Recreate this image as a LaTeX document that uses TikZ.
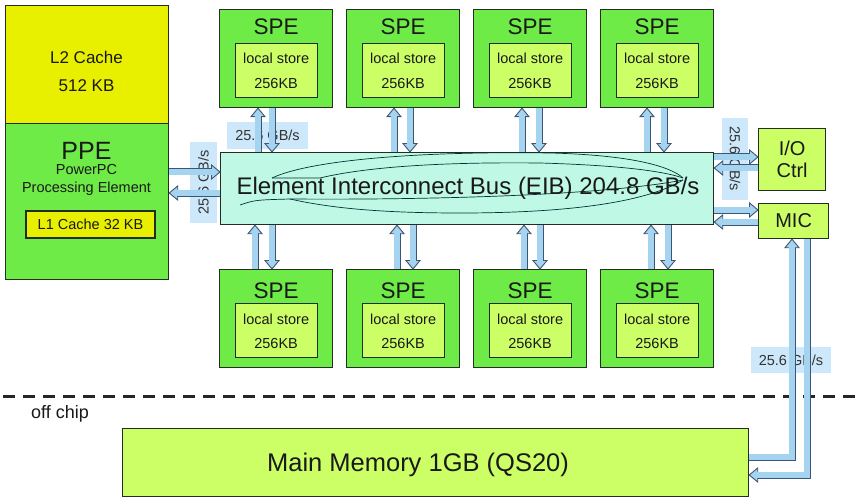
\documentclass[tikz,border=0pt]{standalone}
\usepackage{fontspec}
\setmainfont{Liberation Sans}
\usetikzlibrary{calc}
\definecolor{grn}{RGB}{110,235,70}
\definecolor{lgrn}{RGB}{204,255,102}
\definecolor{yel}{RGB}{232,240,0}
\definecolor{eibc}{RGB}{192,248,230}
\definecolor{afill}{RGB}{165,212,240}
\definecolor{aline}{RGB}{60,85,115}
\definecolor{lblbg}{RGB}{205,232,250}
\definecolor{bord}{RGB}{35,45,35}
\newcommand{\fs}[1]{\fontsize{#1}{#1}\selectfont}
\newcommand{\blockarr}[3]{%
  \draw[shaftout] #1; \pic[rotate=#3] at #2 {bhead}; \draw[shaftin] #1;}
\begin{document}
\begin{tikzpicture}[x=1pt,y=-1pt,
 box/.style={draw=bord, line width=1.2pt, inner sep=0pt, anchor=north west, text=black!90},
 txt/.style={inner sep=0pt, text=black!90, align=center},
 lbl/.style={fill=lblbg, inner sep=0pt, font=\fs{14.5}, text=black!80},
 shaftout/.style={draw=aline, line width=7pt, shorten >=7pt, line join=miter},
 shaftin/.style={draw=afill, line width=5.2pt, shorten >=5pt, line join=miter},
 bhead/.pic={\filldraw[fill=afill, draw=aline, line width=0.9pt, line join=miter] (0,0) -- (-8.5,7) -- (-8.5,-7) -- cycle;},
 swoosh/.style={draw=black!60!teal, line width=0.7pt}
]
\useasboundingbox[fill=white] (0,0) rectangle (861,497);

% PPE / L2
\node[box, fill=yel, minimum width=163, minimum height=118] (l2) at (5,5) {};
\node[box, fill=grn, minimum width=163, minimum height=156] (ppe) at (5,123) {};
\node[txt, font=\fs{17}] (l2a) at (86.5,57) {L2 Cache};
\node[txt, font=\fs{17}] (l2b) at (86.5,86) {512 KB};
\node[txt, font=\fs{25}] (ppea) at (86.5,151) {PPE};
\node[txt, font=\fs{14.5}] (ppeb) at (86.5,170) {PowerPC};
\node[txt, font=\fs{14.5}] (ppec) at (86.5,189) {Processing Element};
\node[box, anchor=center, fill=yel, minimum width=129, minimum height=27, font=\fs{14.5}] (l1) at (90.5,224.5) {L1 Cache 32 KB};

% EIB
\node[box, fill=eibc, minimum width=493, minimum height=72] (eib) at (220,152) {};
\draw[swoosh] (272,178) .. controls (310,160) and (420,151) .. (550,153) .. controls (630,155) and (670,166) .. (683,178);
\draw[swoosh] (272,178) -- (320,178) .. controls (370,166) and (450,162) .. (540,163) .. controls (610,165) and (660,170) .. (683,178);
\draw[swoosh] (240,205) .. controls (255,200) .. (290,199) .. controls (420,200) and (600,196) .. (683,180);
\draw[swoosh] (290,199) .. controls (330,208) and (380,213) .. (460,213) .. controls (580,213) and (650,200) .. (683,180);
\node[txt, font=\fs{24}] (eibt) at (468,188) {Element Interconnect Bus (EIB) 204.8 GB/s};

% SPEs
\foreach \i/\x in {1/219,2/346,3/473,4/600} {
  \node[box, fill=grn, minimum width=113, minimum height=98] (st\i) at (\x,9) {};
  \node[txt, font=\fs{22.5}] (st\i t) at ($(st\i.north)+(0,18)$) {SPE};
  \node[box, anchor=north, fill=lgrn, minimum width=82, minimum height=54] (lt\i) at ($(st\i.north)+(0,34)$) {};
  \node[txt, font=\fs{14.5}] (lt\i a) at ($(lt\i.north)+(0,15)$) {local store};
  \node[txt, font=\fs{14.5}] (lt\i b) at ($(lt\i.north)+(0,41)$) {256KB};
  \node[box, fill=grn, minimum width=113, minimum height=98] (sb\i) at (\x,269) {};
  \node[txt, font=\fs{22.5}] (sb\i t) at ($(sb\i.north)+(0,22)$) {SPE};
  \node[box, anchor=north, fill=lgrn, minimum width=82, minimum height=54] (lb\i) at ($(sb\i.north)+(0,34)$) {};
  \node[txt, font=\fs{14.5}] (lb\i a) at ($(lb\i.north)+(0,16)$) {local store};
  \node[txt, font=\fs{14.5}] (lb\i b) at ($(lb\i.north)+(0,41)$) {256KB};
}

% I/O, MIC, memory
\node[box, fill=lgrn, minimum width=67, minimum height=62, font=\fontsize{20}{22}\selectfont, align=center] (io) at (758,128) {I/O\\Ctrl};
\node[box, fill=lgrn, minimum width=70, minimum height=35, font=\fs{20}] (mic) at (758,203) {MIC};
\node[box, fill=lgrn, minimum width=626, minimum height=68] (mm) at (122,428) {};
\node[txt, font=\fs{25.5}] (mmt) at (418,465) {Main Memory 1GB (QS20)};

% dashed chip boundary
\coordinate (dl) at (3,396);
\coordinate (dr) at (861,396);
\draw[line width=3pt, dash pattern=on 12pt off 8pt, black!85] (dl) -- (dr);
\node[txt, font=\fs{18}] (off) at (60,414) {off chip};

% bandwidth labels
\node[lbl, minimum width=81, minimum height=27] (lab1) at (267.5,135.5) {25.6 GB/s};
\node[lbl, rotate=90, minimum width=81, minimum height=27] (lab2) at (203.5,182.5) {25.6 GB/s};
\node[lbl, rotate=-90, minimum width=82, minimum height=26] (lab3) at (735,159) {25.6 GB/s};
\node[lbl, minimum width=80, minimum height=26] (lab4) at (791,360) {25.6 GB/s};

% SPE <-> EIB arrows
\foreach \i/\a/\b/\c/\d in {1/258/272/255/272, 2/394/410/397/413, 3/522/539/524/540, 4/647/664/651/668} {
  \coordinate (tu\i) at (\a,0);
  \coordinate (td\i) at (\b,0);
  \coordinate (bu\i) at (\c,0);
  \coordinate (bd\i) at (\d,0);
  \blockarr{(tu\i |- eib.north) -- (tu\i |- st\i.south)}{(tu\i |- st\i.south)}{90}
  \blockarr{(td\i |- st\i.south) -- (td\i |- eib.north)}{(td\i |- eib.north)}{-90}
  \blockarr{(bu\i |- sb\i.north) -- (bu\i |- eib.south)}{(bu\i |- eib.south)}{90}
  \blockarr{(bd\i |- eib.south) -- (bd\i |- sb\i.north)}{(bd\i |- sb\i.north)}{-90}
}

% horizontal arrows
\coordinate (h1) at (0,172);
\coordinate (h2) at (0,193);
\coordinate (h3) at (0,157);
\coordinate (h4) at (0,168);
\coordinate (h5) at (0,210);
\coordinate (h6) at (0,222);
\blockarr{(ppe.east |- h1) -- (eib.west |- h1)}{(eib.west |- h1)}{0}
\blockarr{(eib.west |- h2) -- (ppe.east |- h2)}{(ppe.east |- h2)}{180}
\blockarr{(eib.east |- h3) -- (io.west |- h3)}{(io.west |- h3)}{0}
\blockarr{(io.west |- h4) -- (eib.east |- h4)}{(eib.east |- h4)}{180}
\blockarr{(eib.east |- h5) -- (mic.west |- h5)}{(mic.west |- h5)}{0}
\blockarr{(mic.west |- h6) -- (eib.east |- h6)}{(eib.east |- h6)}{180}

% MIC <-> memory
\coordinate (v1) at (792,457);
\coordinate (v2) at (807,475);
\blockarr{(mm.east |- v1) -- (v1) -- (v1 |- mic.south)}{(v1 |- mic.south)}{90}
\blockarr{(v2 |- mic.south) -- (v2) -- (mm.east |- v2)}{(mm.east |- v2)}{180}
\end{tikzpicture}
\end{document}
